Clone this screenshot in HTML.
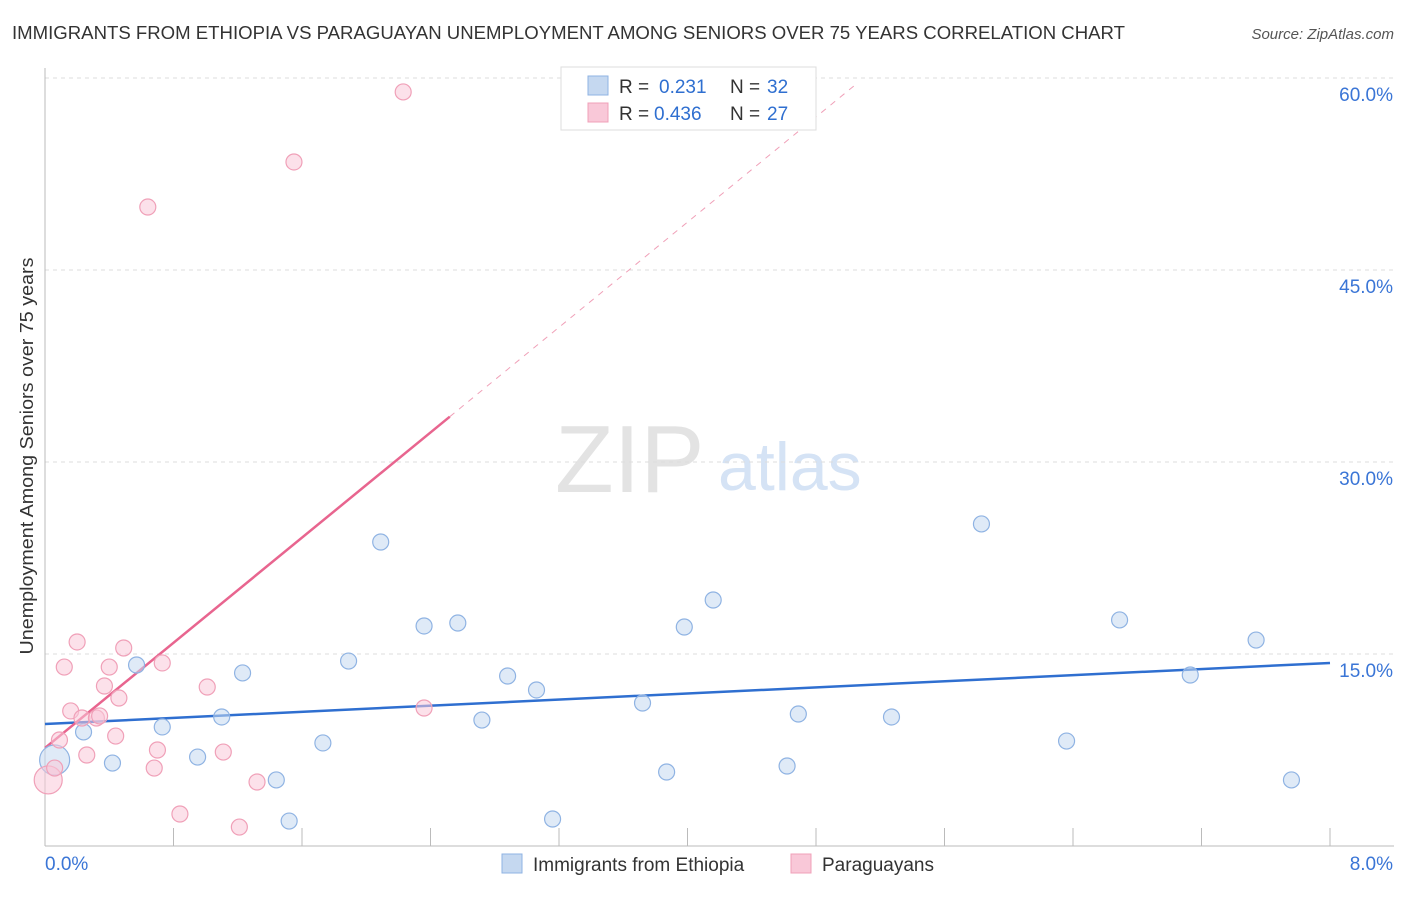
<!DOCTYPE html>
<html><head><meta charset="utf-8"><style>
body{margin:0;background:#fff;font-family:"Liberation Sans",sans-serif;}
svg text{font-family:"Liberation Sans",sans-serif;}
</style></head><body>
<svg id="chart" width="1406" height="892">
<text x="12" y="39" font-size="18" fill="#333" textLength="1113" lengthAdjust="spacingAndGlyphs">IMMIGRANTS FROM ETHIOPIA VS PARAGUAYAN UNEMPLOYMENT AMONG SENIORS OVER 75 YEARS CORRELATION CHART</text>
<text x="1394" y="39" font-size="15" font-style="italic" fill="#555" text-anchor="end">Source: ZipAtlas.com</text>
<text x="0" y="0" transform="translate(33,456) rotate(-90)" font-size="18" fill="#333" text-anchor="middle" textLength="397" lengthAdjust="spacingAndGlyphs">Unemployment Among Seniors over 75 years</text>
<text x="555" y="492" font-size="96" font-family="Liberation Serif" fill="#e3e3e3">ZIP</text>
<text x="718" y="490" font-size="68" fill="#d5e3f5">atlas</text>
<g id="grid"></g><g id="axes"></g><g id="lines"></g><g id="points"></g>
<g>
<rect x="561" y="67" width="255" height="63" fill="#fff" stroke="#ddd"/>
<rect x="588" y="76" width="20" height="19" fill="#c5d8f0" stroke="#8fb3e3"/>
<text x="619" y="93" font-size="19" fill="#333">R = </text><text x="659" y="93" font-size="19" fill="#2f6fd0">0.231</text>
<text x="730" y="93" font-size="19" fill="#333">N = </text><text x="767" y="93" font-size="19" fill="#2f6fd0">32</text>
<rect x="588" y="103" width="20" height="19" fill="#f9c8d8" stroke="#f0a0b8"/>
<text x="619" y="120" font-size="19" fill="#333">R = </text><text x="654" y="120" font-size="19" fill="#2f6fd0">0.436</text>
<text x="730" y="120" font-size="19" fill="#333">N = </text><text x="767" y="120" font-size="19" fill="#2f6fd0">27</text>
</g>
<g>
<rect x="502" y="854" width="20" height="19" fill="#c5d8f0" stroke="#8fb3e3"/>
<text x="533" y="871" font-size="19" fill="#333">Immigrants from Ethiopia</text>
<rect x="791" y="854" width="20" height="19" fill="#f9c8d8" stroke="#f0a0b8"/>
<text x="822" y="871" font-size="19" fill="#333">Paraguayans</text>
</g>
</svg>
<script>
const xTicks=[0,0.8,1.6,2.4,3.2,4,4.8,5.6,6.4,7.2,8];
const yTicks=[15,30,45,60];
const yTickLabels=["15.0%","30.0%","45.0%","60.0%"];
const blueX=[0.06,0.24,0.42,0.57,0.73,0.95,1.10,1.23,1.44,1.52,1.73,1.89,2.09,2.36,2.57,2.72,2.88,3.06,3.16,3.72,3.87,3.98,4.16,4.62,4.69,5.27,5.83,6.36,6.69,7.13,7.54,7.76];
const blueY=[6.72,8.91,6.48,14.14,9.30,6.95,10.08,13.52,5.16,1.95,8.05,14.45,23.75,17.19,17.42,9.84,13.28,12.19,2.11,11.17,5.78,17.11,19.22,6.25,10.31,10.08,25.16,8.20,17.66,13.36,16.09,5.16];
const pinkX=[0.02,0.06,0.09,0.12,0.16,0.20,0.23,0.26,0.32,0.34,0.37,0.40,0.44,0.46,0.49,0.64,0.68,0.70,0.73,0.84,1.01,1.11,1.21,1.32,1.55,2.23,2.36];
const pinkY=[5.16,6.09,8.28,13.98,10.55,15.94,10.0,7.11,10.0,10.16,12.5,13.98,8.59,11.56,15.47,49.92,6.09,7.5,14.3,2.5,12.42,7.34,1.48,5.0,53.44,58.91,10.78];
const blueLine=[9.53,14.30];
const pinkLine=[7.66,10.27];
const pinkSolidEnd=2.52, pinkDashEnd=5.04;
const NS="http://www.w3.org/2000/svg";
const X=v=>45+v/8*1285, Y=v=>846-v/15*192;
function mk(t,a,p){const e=document.createElementNS(NS,t);for(const k in a)e.setAttribute(k,a[k]);p.appendChild(e);return e;}
const grid=document.getElementById('grid'),axes=document.getElementById('axes'),lines=document.getElementById('lines'),pts=document.getElementById('points');
yTicks.forEach((t,i)=>{
 const l=mk('line',{x1:45,x2:1394,y1:Y(t),y2:Y(t),stroke:'#ddd','stroke-dasharray':'4,4'},grid);
 
 
 const tx=mk('text',{x:1393,y:Y(t)+23,'font-size':19,fill:'#3a75d6','text-anchor':'end'},axes);
 tx.textContent=yTickLabels[i];
 
 
});
const ax=mk('line',{x1:45,x2:45,y1:68,y2:846,stroke:'#bbb'},axes);


const bx=mk('line',{x1:45,x2:1394,y1:846,y2:846,stroke:'#bbb'},axes);


xTicks.forEach(t=>{
 const l=mk('line',{x1:X(t),x2:X(t),y1:828,y2:846,stroke:'#bbb'},axes);
 
 
});
const xl0=mk('text',{x:45,y:870,'font-size':19,fill:'#3a75d6'},axes);xl0.textContent='0.0%';


const xl1=mk('text',{x:1393,y:870,'font-size':19,fill:'#3a75d6','text-anchor':'end'},axes);xl1.textContent='8.0%';


function dot(x,y,c,s,r,n){const e=mk('circle',{cx:X(x),cy:Y(y),r:r,fill:c,'fill-opacity':0.55,stroke:s,'stroke-width':1.2},pts);
 
 }
blueX.forEach((x,i)=>dot(x,blueY[i],'#c5d8f0','#8fb3e3',i==0?15:8,'point-ethiopia'));
pinkX.forEach((x,i)=>dot(x,pinkY[i],'#f9c8d8','#f0a0b8',i==0?14:8,'point-paraguayans'));
const bl=mk('line',{x1:X(0),y1:Y(blueLine[0]),x2:X(8),y2:Y(blueLine[1]),stroke:'#2f6fd0','stroke-width':2.5},lines);


const pl=mk('line',{x1:X(0),y1:Y(pinkLine[0]),x2:X(pinkSolidEnd),y2:Y(pinkLine[0]+pinkLine[1]*pinkSolidEnd),stroke:'#e8658f','stroke-width':2.5},lines);


const pd=mk('line',{x1:X(pinkSolidEnd),y1:Y(pinkLine[0]+pinkLine[1]*pinkSolidEnd),x2:X(pinkDashEnd),y2:Y(pinkLine[0]+pinkLine[1]*pinkDashEnd),stroke:'#f0a0b8','stroke-width':1,'stroke-dasharray':'6,6'},lines);


</script>
</body></html>
